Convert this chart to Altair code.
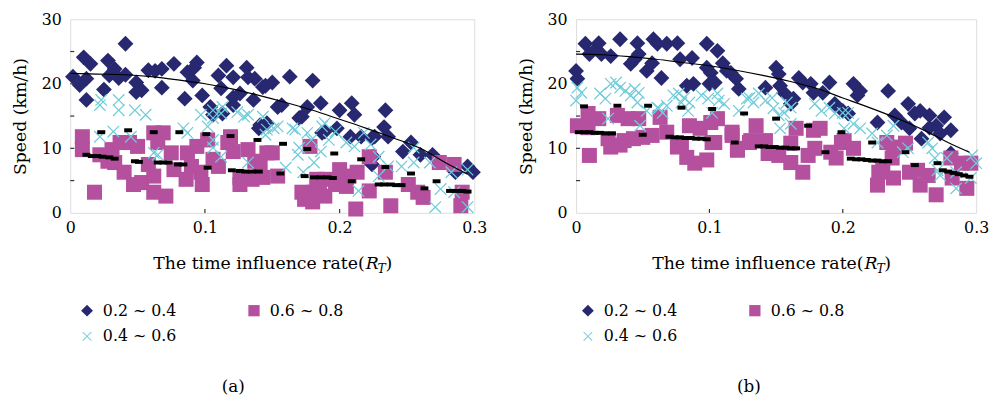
import altair as alt
import pandas as pd

FONT = "DejaVu Serif"
SERIES = ["0.2 ~ 0.4", "0.4 ~ 0.6", "0.6 ~ 0.8"]
COLORS = ["#27286F", "#6FCCD9", "#B5509F"]
DIAMOND = "M0,-1L1,0L0,1L-1,0Z"
SQUARE = "M-0.95,-0.95H0.95V0.95H-0.95Z"
XSHAPE = ("M-0.78,-0.67L-0.67,-0.78L0,-0.11L0.67,-0.78L0.78,-0.67L0.11,0L0.78,0.67"
          "L0.67,0.78L0,0.11L-0.67,0.78L-0.78,0.67L-0.11,0Z")
DASH = "M-1,-0.5H1V0.5H-1Z"
SHAPES = [DIAMOND, XSHAPE, SQUARE]

X_TICKS = [0, 0.1, 0.2, 0.3]
Y_TICKS = [0, 5, 10, 15, 20, 25, 30]

# ---------------- panel (a) ----------------
A_DIA = [(0.002,21.1),(0.007,19.8),(0.010,24.1),(0.015,23.1),(0.012,20.8),(0.012,17.5),(0.025,19.1),
         (0.028,23.6),(0.029,21.3),(0.033,22.3),(0.036,20.9),(0.041,26.2),(0.041,21.4),(0.049,20.2),
         (0.049,18.7),(0.053,19.0),(0.058,22.1),(0.063,22.0),(0.068,22.3),(0.068,19.4),(0.077,23.1),
         (0.085,17.7),(0.087,21.8),(0.091,20.5),(0.092,22.5),(0.094,23.3),(0.098,18.2),(0.104,16.4),
         (0.106,15.2),(0.110,21.3),(0.112,19.3),(0.113,15.4),(0.116,22.8),(0.121,21.0),(0.121,17.9),
         (0.121,16.7),(0.126,18.5),(0.131,22.5),(0.132,21.0),(0.136,17.5),(0.137,20.8),(0.140,13.1),
         (0.141,13.6),(0.143,19.5),(0.145,19.7),(0.146,13.9),(0.150,20.2),(0.154,16.4),(0.157,16.7),
         (0.163,21.1),(0.170,14.7),(0.172,14.9),(0.176,16.4),(0.180,20.5),(0.186,17.0),(0.187,12.4),
         (0.189,12.6),(0.198,13.1),(0.200,15.9),(0.208,11.8),(0.209,17.0),(0.211,15.2),(0.216,11.8),
         (0.224,7.5),(0.225,8.7),(0.224,11.6),(0.226,11.8),(0.233,13.3),(0.234,15.9),(0.236,11.8),
         (0.247,9.5),(0.253,10.9),(0.260,9.0),(0.269,9.0),(0.286,6.3),(0.295,7.2),(0.299,6.3)]
A_CRS = [(0.022,16.7),(0.023,17.5),(0.036,17.5),(0.036,15.9),(0.048,15.9),(0.056,15.2),(0.022,11.8),
         (0.032,12.6),(0.045,11.8),(0.062,9.3),(0.065,9.0),(0.084,13.1),(0.087,12.4),(0.097,15.2),
         (0.102,13.4),(0.106,15.9),(0.106,14.7),(0.112,15.4),(0.113,16.4),(0.106,11.3),(0.106,10.1),
         (0.112,8.7),(0.124,15.6),(0.129,14.9),(0.132,15.2),(0.132,7.8),(0.143,14.9),(0.145,12.1),
         (0.146,12.9),(0.151,13.1),(0.154,13.4),(0.160,7.0),(0.165,13.1),(0.167,12.9),(0.169,9.0),
         (0.170,10.1),(0.176,12.4),(0.179,11.3),(0.173,6.3),(0.181,7.8),(0.186,9.5),(0.189,13.9),
         (0.187,13.4),(0.192,11.3),(0.197,12.6),(0.205,10.9),(0.211,10.3),(0.218,12.4),(0.223,10.6),
         (0.229,8.7),(0.236,7.2),(0.214,3.4),(0.229,5.7),(0.246,7.2),(0.255,10.1),(0.255,7.8),
         (0.267,7.8),(0.271,0.9),(0.275,3.7),(0.283,6.3),(0.285,3.2),(0.295,6.7),(0.295,0.9)]
A_SQR = [(0.009,11.8),(0.009,9.8),(0.018,3.2),(0.022,9.0),(0.028,8.0),(0.031,9.8),(0.037,10.9),
         (0.033,7.8),(0.040,6.3),(0.044,10.9),(0.047,4.4),(0.053,4.7),(0.050,10.3),(0.058,7.5),
         (0.062,12.4),(0.069,12.4),(0.062,5.7),(0.065,10.9),(0.062,3.2),(0.071,2.6),(0.075,9.3),
         (0.077,6.7),(0.086,5.2),(0.087,9.3),(0.090,7.2),(0.094,10.3),(0.097,6.3),(0.098,4.4),
         (0.102,11.3),(0.106,8.3),(0.110,7.2),(0.117,10.9),(0.119,11.8),(0.121,9.5),(0.126,5.5),
         (0.126,4.4),(0.132,9.8),(0.135,5.2),(0.137,8.0),(0.141,7.8),(0.143,5.5),(0.146,9.3),
         (0.150,9.3),(0.154,5.7),(0.172,3.2),(0.174,2.1),(0.178,10.3),(0.180,1.7),(0.183,5.2),
         (0.185,3.7),(0.189,2.6),(0.181,3.2),(0.190,5.2),(0.200,6.7),(0.197,4.4),(0.207,5.7),
         (0.205,4.1),(0.213,6.3),(0.212,0.6),(0.222,8.7),(0.222,3.4),(0.234,6.3),(0.238,1.1),
         (0.251,4.4),(0.258,3.2),(0.262,2.4),(0.274,7.8),(0.285,7.5),(0.291,3.2),(0.290,1.1)]
A_DASH = [(0.023,12.5),(0.043,12.8),(0.062,12.5),(0.081,12.5),(0.101,12.2),(0.119,11.9),(0.139,11.3),
          (0.158,10.7),(0.176,9.9),(0.196,9.2),(0.216,8.3),(0.234,7.1),(0.253,6.1),(0.272,4.9),
          (0.291,3.4),
          (0.012,9.0),(0.016,8.8),(0.020,8.8),(0.024,8.7),(0.029,8.6),(0.033,8.4),(0.048,8.0),
          (0.051,7.9),(0.065,7.8),(0.069,7.8),(0.073,7.8),(0.080,7.5),(0.084,7.5),(0.102,7.0),
          (0.120,6.6),(0.126,6.5),(0.130,6.4),(0.135,6.4),(0.140,6.4),(0.156,6.1),(0.174,5.7),
          (0.181,5.5),(0.186,5.5),(0.191,5.5),(0.195,5.4),(0.209,4.9),(0.229,4.4),(0.233,4.4),
          (0.238,4.4),(0.242,4.3),(0.246,4.3),(0.263,3.8),(0.282,3.4),(0.286,3.4),(0.291,3.4),
          (0.295,3.3)]
A_FIT_X = [0, 0.02, 0.04, 0.06, 0.08, 0.1, 0.12, 0.14, 0.16, 0.18, 0.2, 0.22, 0.24, 0.26, 0.28, 0.295]
A_FIT_Y = [21.6, 21.5, 21.4, 21.1, 20.6, 20.0, 19.2, 18.2, 17.1, 15.9, 14.5, 13.1, 11.6, 10.0, 7.6, 6.0]

# ---------------- panel (b) ----------------
B_DIA = [(0.0,22.0),(0.001,20.8),(0.007,26.2),(0.010,24.6),(0.015,25.4),(0.017,26.3),(0.019,24.6),
         (0.026,24.3),(0.033,26.9),(0.041,23.1),(0.044,23.8),(0.046,26.3),(0.047,24.6),(0.053,22.0),
         (0.057,23.2),(0.058,26.9),(0.061,26.2),(0.064,20.9),(0.068,26.2),(0.076,26.3),(0.078,23.8),
         (0.087,24.0),(0.083,19.7),(0.088,20.0),(0.098,26.2),(0.098,22.5),(0.100,20.0),(0.106,25.1),
         (0.110,23.2),(0.113,22.0),(0.116,21.7),(0.101,21.7),(0.104,20.2),(0.120,20.8),(0.122,19.2),
         (0.150,22.5),(0.152,21.5),(0.142,19.4),(0.153,19.7),(0.156,18.6),(0.167,20.9),(0.170,20.2),
         (0.176,20.0),(0.178,18.6),(0.161,16.9),(0.163,17.7),(0.190,20.2),(0.185,18.6),(0.194,16.9),
         (0.200,15.8),(0.208,20.0),(0.213,18.9),(0.211,18.2),(0.204,15.4),(0.226,14.0),(0.234,18.9),
         (0.239,15.1),(0.244,14.0),(0.249,16.9),(0.254,15.4),(0.258,15.8),(0.250,13.1),(0.265,15.1),
         (0.270,13.5),(0.276,14.8),(0.281,12.8),(0.273,12.3),(0.265,13.2),(0.281,9.2),(0.259,11.5)]
B_CRS = [(0.001,19.4),(0.004,18.6),(0.018,18.5),(0.0,17.4),(0.030,20.2),(0.033,19.4),(0.037,18.9),
         (0.041,18.2),(0.044,19.2),(0.047,18.6),(0.046,17.1),(0.053,15.8),(0.062,16.2),(0.068,16.6),
         (0.073,18.2),(0.077,18.5),(0.079,17.1),(0.081,17.8),(0.084,15.8),(0.024,14.6),(0.048,13.5),
         (0.094,18.2),(0.099,17.7),(0.026,20.0),(0.022,17.7),(0.061,16.3),(0.065,15.5),(0.085,17.1),
         (0.107,17.4),(0.130,17.8),(0.122,15.8),(0.102,15.5),(0.111,16.9),(0.106,18.5),(0.128,17.7),
         (0.133,17.1),(0.137,18.5),(0.142,17.4),(0.147,17.8),(0.148,16.2),(0.152,15.1),(0.156,15.5),
         (0.158,17.1),(0.161,16.3),(0.153,13.1),(0.161,13.8),(0.179,16.9),(0.184,15.8),(0.190,16.3),
         (0.194,15.4),(0.200,15.5),(0.204,15.5),(0.201,13.1),(0.208,13.8),(0.213,13.1),(0.222,12.3),
         (0.226,10.9),(0.233,12.0),(0.238,13.5),(0.245,9.4),(0.249,10.0),(0.264,10.9),(0.267,10.0),
         (0.269,8.5),(0.271,6.6),(0.278,8.5),(0.285,3.8),(0.297,8.9),(0.300,7.7),(0.296,5.4),
         (0.285,6.3),(0.273,5.8)]
B_SQR = [(0.001,13.5),(0.009,15.4),(0.009,13.2),(0.010,8.9),(0.017,14.6),(0.024,11.5),(0.026,10.2),
         (0.031,15.1),(0.033,10.5),(0.036,11.2),(0.039,14.6),(0.043,11.5),(0.047,14.6),(0.050,11.7),
         (0.057,12.0),(0.063,14.8),(0.068,12.5),(0.076,10.2),(0.079,10.5),(0.083,8.6),(0.085,13.5),
         (0.089,7.7),(0.093,13.1),(0.098,8.2),(0.104,10.9),(0.106,14.6),(0.117,12.5),(0.121,9.7),
         (0.131,11.2),(0.135,13.5),(0.101,14.0),(0.102,10.9),(0.117,12.0),(0.121,10.0),(0.130,10.9),
         (0.142,11.2),(0.144,9.2),(0.152,8.9),(0.161,10.8),(0.161,7.8),(0.165,13.1),(0.170,6.3),
         (0.174,8.9),(0.178,12.8),(0.179,10.0),(0.183,13.1),(0.191,9.4),(0.199,10.9),(0.195,8.5),
         (0.201,11.2),(0.208,10.0),(0.227,6.3),(0.226,4.3),(0.230,6.9),(0.233,10.9),(0.238,10.2),
         (0.237,8.5),(0.238,5.4),(0.247,10.8),(0.250,6.3),(0.256,6.6),(0.258,4.3),(0.264,5.8),
         (0.270,2.8),(0.281,8.5),(0.282,5.4),(0.289,7.7),(0.296,7.7),(0.293,3.8)]
B_DASH = [(0.006,16.5),(0.031,16.6),(0.054,16.6),(0.079,16.3),(0.102,16.1),(0.126,15.4),(0.150,14.6),
          (0.174,13.5),(0.199,12.5),(0.222,10.9),(0.247,9.4),(0.271,7.7),
          (0.002,12.5),(0.006,12.5),(0.010,12.5),(0.014,12.4),(0.018,12.4),(0.022,12.3),(0.027,12.3),
          (0.050,12.1),(0.070,11.8),(0.074,11.7),(0.078,11.7),(0.082,11.6),(0.086,11.6),(0.090,11.5),
          (0.094,11.5),(0.098,11.4),(0.119,10.9),(0.137,10.3),(0.141,10.3),(0.145,10.2),(0.149,10.2),
          (0.153,10.1),(0.157,10.1),(0.161,10.0),(0.165,10.0),(0.187,9.4),(0.206,8.4),(0.210,8.3),
          (0.214,8.3),(0.218,8.2),(0.222,8.1),(0.226,8.1),(0.230,8.0),(0.234,8.0),(0.254,7.4),
          (0.275,6.6),(0.279,6.4),(0.283,6.2),(0.287,6.0),(0.291,5.8),(0.295,5.6)]
B_FIT_X = [0, 0.02, 0.04, 0.06, 0.08, 0.1, 0.12, 0.14, 0.16, 0.18, 0.2, 0.22, 0.24, 0.26, 0.28, 0.295]
B_FIT_Y = [24.6, 24.5, 24.2, 23.8, 23.3, 22.8, 22.1, 21.3, 20.4, 19.3, 17.8, 16.3, 14.7, 12.9, 10.8, 9.4]

H = 196
DRAW_ORDER = {SERIES[0]: 0, SERIES[2]: 1, SERIES[1]: 2}


def panel(dia, sqr, crs, dash, fx, fy, caption, cap_x, title_x, leg_x, width):
    rows = ([(x, y, SERIES[0]) for x, y in dia] + [(x, y, SERIES[2]) for x, y in sqr]
            + [(x, y, SERIES[1]) for x, y in crs])
    df = pd.DataFrame(rows, columns=["x", "y", "s"])
    df["o"] = df["s"].map(DRAW_ORDER)
    xs = alt.Scale(domain=[0, 0.3], nice=False)
    ys = alt.Scale(domain=[0, 30], nice=False)
    xaxis = alt.Axis(values=X_TICKS, title=None, grid=False, ticks=False, tickSize=0, domain=False,
                     labelExpr="datum.value == 0 ? '0' : format(datum.value, '.1f')",
                     labelFont=FONT, labelFontSize=16, labelColor="black", labelPadding=7,
                     labelFlush=False)
    yaxis = alt.Axis(values=Y_TICKS, title="Speed (km/h)", grid=False, ticks=False, tickSize=0,
                     domain=False, labelFont=FONT, labelFontSize=16, labelColor="black",
                     labelPadding=9, titleFont=FONT, titleFontSize=17.5, titleFontWeight="normal",
                     titleColor="black", titlePadding=12)
    leg = alt.Legend(orient="none", legendX=leg_x, legendY=287, columns=2, columnPadding=70,
                     rowPadding=10, symbolSize=144, symbolStrokeWidth=0, labelFont=FONT,
                     labelFontSize=16, labelColor="black", labelOffset=8, title=None, padding=0)
    pts = alt.Chart(df).mark_point(filled=True, opacity=1, size=256).encode(
        x=alt.X("x:Q", scale=xs, axis=xaxis),
        y=alt.Y("y:Q", scale=ys, axis=yaxis),
        color=alt.Color("s:N", scale=alt.Scale(domain=SERIES, range=COLORS), legend=leg),
        shape=alt.Shape("s:N", scale=alt.Scale(domain=SERIES, range=SHAPES), legend=leg),
        order=alt.Order("o:Q"),
    )
    ddf = pd.DataFrame(dash, columns=["x", "y"])
    dashes = alt.Chart(ddf).mark_point(filled=True, opacity=1, size=64, shape=DASH,
                                       color="black").encode(x="x:Q", y="y:Q")
    fdf = pd.DataFrame({"x": fx, "y": fy})
    fit = alt.Chart(fdf).mark_line(color="black", strokeWidth=1.2, interpolate="monotone").encode(
        x="x:Q", y="y:Q")
    tx = pd.DataFrame({"x": [0.1, 0.2], "y0": [0, 0], "y1": [0.6, 0.6]})
    xt = alt.Chart(tx).mark_rule(color="#333", strokeWidth=1.2).encode(x="x:Q", y="y0:Q", y2="y1:Q")
    ty = pd.DataFrame({"y": [5, 10, 15, 20, 25], "x0": [0] * 5, "x1": [0.003] * 5})
    yt = alt.Chart(ty).mark_rule(color="#333", strokeWidth=1.2).encode(y="y:Q", x="x0:Q", x2="x1:Q")

    def txt(s, x, y, size=17.5, align="left", style="normal", baseline="alphabetic"):
        return alt.Chart(pd.DataFrame({"t": [s]})).mark_text(
            font=FONT, fontSize=size, align=align, baseline=baseline, fontStyle=style,
            color="black").encode(x=alt.value(x), y=alt.value(y), text="t:N")

    t1 = txt("The time influence rate(", title_x, 253, align="right")
    t2 = txt("R", title_x + 1, 253, style="italic")
    t3 = txt("T", title_x + 13, 257, size=12.5, style="italic")
    t4 = txt(")", title_x + 21, 253)
    cap = txt(caption, cap_x, 372, size=17, align="center", baseline="middle")
    return alt.layer(pts, dashes, fit, xt, yt, t1, t2, t3, t4, cap).properties(width=width, height=H)


pa = panel(A_DIA, A_SQR, A_CRS, A_DASH, A_FIT_X, A_FIT_Y, "(a)", 165, 298, 9, 409)
pb = panel(B_DIA, B_SQR, B_CRS, B_DASH, B_FIT_X, B_FIT_Y, "(b)", 175, 291, 4, 405)

chart = alt.hconcat(pa, pb, spacing=29).resolve_scale(
    color="independent", shape="independent").resolve_legend(
    color="independent", shape="independent").properties(
    padding={"left": 3, "top": 0, "right": 0, "bottom": 0}).configure_view(
    stroke="#3a3a3a", strokeWidth=1.5).configure(background="white")

chart.save("out.html", embed_options={"renderer": "svg", "actions": False})
